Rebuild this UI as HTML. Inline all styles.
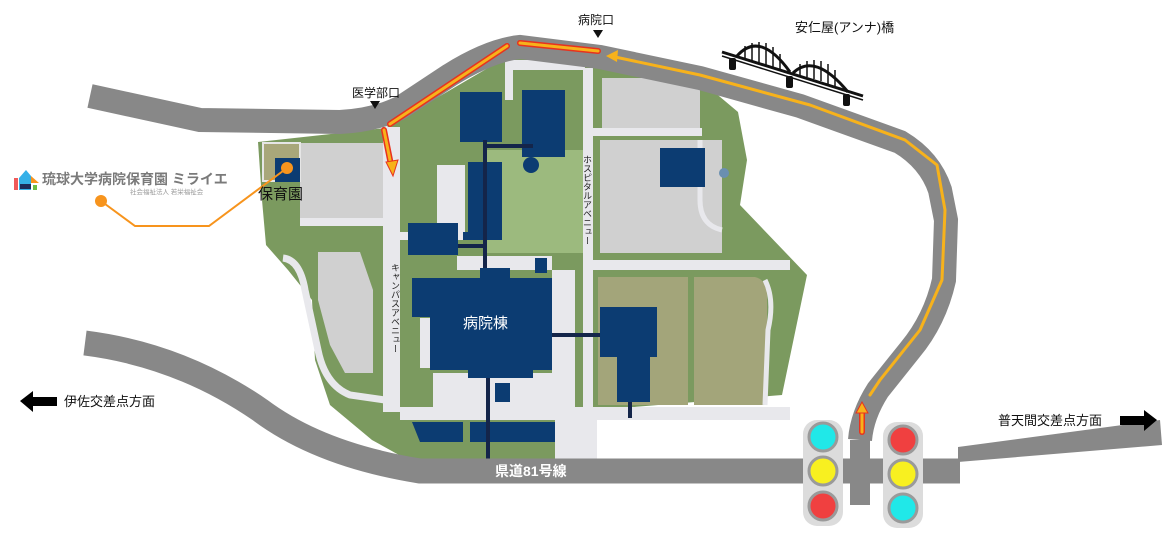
<!DOCTYPE html>
<html><head><meta charset="utf-8"><style>
html,body{margin:0;padding:0;background:#fff;}
svg{display:block;}
text{font-family:"Liberation Sans","Noto Sans CJK JP",sans-serif;}
</style></head><body>
<svg width="1174" height="549" viewBox="0 0 1174 549" xmlns="http://www.w3.org/2000/svg">
<!-- campus green -->
<path d="M258,142 L385,128 L440,96 L505,58 L600,62 L700,80 L738,112 L747,160 L740,205 L807,275 L782,395 L597,410 L597,460 L408,460 L372,440 L330,405 L315,360 L312,300 L288,270 L266,245 L262,200 Z" fill="#7b9a5f"/>
<!-- light grass -->
<path d="M487,150 L583,150 L583,253 L487,253 Z" fill="#9cba7e"/>
<!-- gray lots -->
<rect x="300" y="143" width="83" height="80" fill="#d0d0d0"/>
<path d="M318,252 L360,252 L373,290 L373,373 L345,373 L330,345 L318,300 Z" fill="#d0d0d0"/>
<rect x="602" y="78" width="98" height="52" fill="#d0d0d0"/>
<rect x="600" y="140" width="122" height="113" fill="#d0d0d0"/>
<!-- tan fields -->
<rect x="598" y="277" width="90" height="128" fill="#a3a57a"/>
<path d="M694,277 L755,277 Q767,280 767,295 L767,405 L694,405 Z" fill="#a3a57a"/>
<!-- 保育園 yard -->
<rect x="263" y="143" width="37" height="38" fill="#a8a77a" stroke="#e6e6e6" stroke-width="2"/>
<!-- white internal roads -->
<g fill="#e8e8ec">
<rect x="383" y="127" width="17" height="285"/>
<rect x="583" y="68" width="10" height="355"/>
<rect x="592" y="260" width="198" height="10"/>
<rect x="400" y="407" width="390" height="13"/>
<rect x="555" y="420" width="42" height="40"/>
<rect x="433" y="373" width="137" height="34"/>
<rect x="552" y="270" width="23" height="140"/>
<rect x="592" y="128" width="110" height="8"/>
<rect x="300" y="218" width="83" height="8"/>
<rect x="400" y="232" width="65" height="8"/>
<rect x="437" y="165" width="28" height="70"/>
<rect x="420" y="318" width="12" height="50"/>
<rect x="505" y="60" width="80" height="10"/>
<rect x="505" y="60" width="8" height="40"/>
<rect x="457" y="256" width="95" height="14"/>
</g>
<path d="M283,258 Q300,260 305,290 L318,350 Q325,385 350,395 L385,400" fill="none" stroke="#e8e8ec" stroke-width="7"/>
<path d="M700,140 L700,200 Q700,225 722,230" fill="none" stroke="#e8e8ec" stroke-width="5"/>
<path d="M765,280 Q775,300 768,330 L765,405" fill="none" stroke="#e8e8ec" stroke-width="5"/>
<!-- navy buildings -->
<g fill="#0c3c72">
<rect x="275" y="158" width="25" height="24"/>
<rect x="460" y="92" width="42" height="50"/>
<rect x="522" y="90" width="43" height="67"/>
<rect x="468" y="162" width="34" height="78"/>
<rect x="408" y="223" width="50" height="32"/>
<rect x="463" y="232" width="10" height="8"/>
<rect x="535" y="258" width="12" height="15"/>
<path d="M412,278 L480,278 L480,268 L510,268 L510,278 L552,278 L552,370 L533,370 L533,378 L468,378 L468,370 L430,370 L430,317 L412,317 Z"/>
<rect x="600" y="307" width="57" height="50"/>
<rect x="617" y="352" width="33" height="50"/>
<path d="M412,422 L463,422 L463,442 L420,442 Z"/>
<rect x="470" y="422" width="85" height="20"/>
<rect x="495" y="383" width="15" height="19"/>
<rect x="660" y="148" width="45" height="39"/>
<circle cx="531" cy="165" r="8"/>
</g>
<g stroke="#14254a" stroke-width="4" fill="none">
<line x1="485" y1="140" x2="485" y2="268"/>
<line x1="483" y1="146" x2="533" y2="146"/>
<line x1="458" y1="246" x2="485" y2="246"/>
<line x1="552" y1="335" x2="600" y2="335"/>
<line x1="488" y1="378" x2="488" y2="460"/>
<line x1="630" y1="402" x2="630" y2="418"/>
</g>
<circle cx="724" cy="173" r="5" fill="#6a8fb0"/>
<!-- main roads -->
<path d="M90,96 L200,120 L340,122 Q375,120 400,108 L450,75 Q490,50 520,47 L600,57 L700,78 L800,106 L900,142 Q930,160 940,190 L946,220 L944,280 Q935,320 910,350 L878,390 Q862,415 860,440" fill="none" stroke="#888" stroke-width="24"/>
<path d="M85,343 Q180,355 260,410 Q320,455 420,471 L960,471" fill="none" stroke="#888" stroke-width="25"/>
<path d="M958,447 L1160,420 L1162,445 L958,462 Z" fill="#888"/>
<rect x="850" y="440" width="20" height="65" fill="#888"/>
<!-- orange route -->
<g fill="none" stroke-linecap="round" stroke-linejoin="round">
<path d="M390,124 L507,46 M520,43 L598,51 M384,130 L391,165" stroke="#e8321e" stroke-width="6"/>
<path d="M390,124 L507,46 M520,43 L598,51 M384,130 L391,165" stroke="#f7b21b" stroke-width="3"/>
<path d="M615,57 L700,75 L810,105 L905,140 L937,165 L945,210 L942,280 L920,330 L880,380 L870,395" stroke="#f7b21b" stroke-width="3"/>
<path d="M862,432 L862,412" stroke="#e8321e" stroke-width="6"/>
<path d="M862,432 L862,412" stroke="#f7b21b" stroke-width="3"/>
</g>
<path d="M386,162 L398,160 L393,176 Z" fill="#f7b21b" stroke="#e8321e" stroke-width="1"/>
<path d="M606,56 L618,50 L617,62 Z" fill="#f7b21b"/>
<path d="M856,413 L868,413 L862,402 Z" fill="#f7b21b" stroke="#e8321e" stroke-width="1"/>
<!-- bridge -->
<g stroke="#111" fill="none">
<line x1="722" y1="52" x2="863" y2="96" stroke-width="3"/>
<line x1="722" y1="56" x2="863" y2="100" stroke-width="1.5"/>
<path d="M737,56 Q760,30 790,72" stroke-width="3"/>
<path d="M793,73 Q815,52 848,92" stroke-width="3"/>
<g stroke-width="1.5">
<line x1="745" y1="46" x2="745" y2="59"/><line x1="752" y1="43" x2="752" y2="61"/><line x1="759" y1="42" x2="759" y2="63"/><line x1="766" y1="43" x2="766" y2="65"/><line x1="773" y1="47" x2="773" y2="67"/><line x1="780" y1="54" x2="780" y2="69"/>
<line x1="800" y1="64" x2="800" y2="75"/><line x1="807" y1="61" x2="807" y2="77"/><line x1="814" y1="60" x2="814" y2="79"/><line x1="821" y1="61" x2="821" y2="81"/><line x1="828" y1="64" x2="828" y2="84"/><line x1="835" y1="70" x2="835" y2="86"/>
</g></g>
<g fill="#111"><rect x="729" y="58" width="7" height="12" rx="2"/><rect x="786" y="76" width="7" height="12" rx="2"/><rect x="843" y="94" width="7" height="12" rx="2"/></g>
<!-- traffic lights -->
<g>
<rect x="803" y="420" width="40" height="106" rx="14" fill="#dcdcdc"/>
<rect x="883" y="422" width="40" height="106" rx="14" fill="#dcdcdc"/>
<g stroke="#9a9a9a" stroke-width="3">
<circle cx="823" cy="437" r="14" fill="#20e8e8"/>
<circle cx="823" cy="471" r="14" fill="#f8f020"/>
<circle cx="823" cy="506" r="14" fill="#f04040"/>
<circle cx="903" cy="440" r="14" fill="#f04040"/>
<circle cx="903" cy="474" r="14" fill="#f8f020"/>
<circle cx="903" cy="508" r="14" fill="#20e8e8"/>
</g></g>
<!-- arrows -->
<path d="M20,401 L33,391 L33,397 L57,397 L57,406 L33,406 L33,412 Z" fill="#000"/>
<path d="M1157,420 L1144,410 L1144,416 L1120,416 L1120,425 L1144,425 L1144,431 Z" fill="#000"/>
<!-- logo -->
<rect x="14" y="178" width="4" height="12" fill="#f05a5a"/>
<path d="M19,178 L26,170 L31,176 L31,190 L19,190 Z" fill="#35b0e8"/>
<path d="M31,176 L39,183 L31,183 Z" fill="#f7941d"/>
<rect x="20" y="184" width="11" height="5" fill="#1d2b5a"/>
<rect x="33" y="185" width="4" height="5" fill="#6cbe45"/>
<!-- labels -->
<text x="42" y="184" font-size="14" font-weight="bold" fill="#7a7a7a">琉球大学病院保育園 ミライエ</text>
<text x="130" y="194" font-size="6.5" fill="#999">社会福祉法人 若栄福祉会</text>
<path d="M101,201 L135,226 L209,226 L287,168" fill="none" stroke="#f7941d" stroke-width="2"/>
<circle cx="101" cy="201" r="6" fill="#f7941d"/>
<circle cx="287" cy="168" r="6" fill="#f7941d"/>
<text x="258" y="199" font-size="15" fill="#111">保育園</text>
<text x="352" y="97" font-size="12" fill="#111">医学部口</text>
<path d="M370,101 L380,101 L375,109 Z" fill="#111"/>
<text x="578" y="24" font-size="12" fill="#111">病院口</text>
<path d="M593,30 L603,30 L598,38 Z" fill="#111"/>
<text x="795" y="32" font-size="13" fill="#111">安仁屋(アンナ)橋</text>
<text x="64" y="406" font-size="13" fill="#111">伊佐交差点方面</text>
<text x="998" y="425" font-size="13" fill="#111">普天間交差点方面</text>
<text x="495" y="476" font-size="14" font-weight="bold" fill="#fff">県道81号線</text>
<text x="463" y="328" font-size="15" fill="#fff">病院棟</text>
<text x="587" y="155" font-size="9" fill="#222" style="writing-mode:tb;">ホスピタルアベニュー</text>
<text x="395" y="263" font-size="9" fill="#222" style="writing-mode:tb;">キャンパスアベニュー</text>
</svg>
</body></html>
